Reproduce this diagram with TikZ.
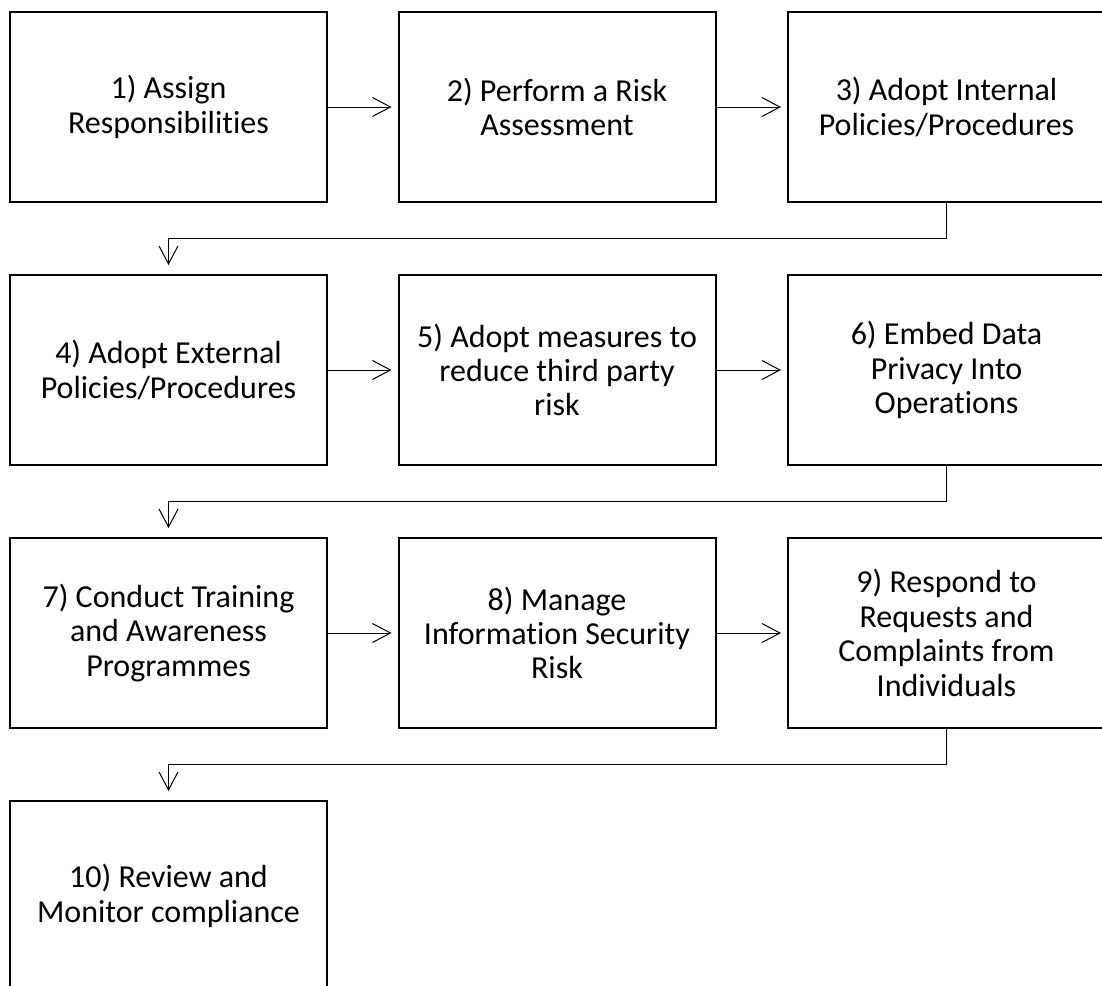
\documentclass[tikz,border=0pt]{standalone}
\usepackage{fontspec}
\setmainfont{Carlito}[Ligatures=NoCommon]
\usetikzlibrary{arrows.meta}
\usetikzlibrary{calc}

\begin{document}
\begin{tikzpicture}[x=0.5pt,y=-0.5pt,
  stepbox/.style={draw=black, line width=1pt, minimum width=158.5pt, minimum height=95pt,
    align=center, font=\fontsize{16}{17.2}\selectfont, inner sep=0pt},
  flow/.style={draw=black, line width=0.5pt, -{Straight Barb[length=9pt,width=9.5pt,line width=0.5pt]}}]
\useasboundingbox (0,0) rectangle (1102,985);
\clip (0,0) rectangle (1102,985);
% row 1
\node[stepbox] (s1) at (168.5,107) {1) Assign\\Responsibilities};
\node[stepbox] (s2) at (557,107) {2) Perform a Risk\\Assessment};
\node[stepbox] (s3) at (946.5,107) {3) Adopt Internal\\Policies/Procedures};
% row 2
\node[stepbox] (s4) at (168.5,370) {4) Adopt External\\Policies/Procedures};
\node[stepbox] (s5) at (557,370) {5) Adopt measures to\\reduce third party\\risk};
\node[stepbox] (s6) at (946.5,370) {6) Embed Data\\Privacy Into\\Operations};
% row 3
\node[stepbox] (s7) at (168.5,633) {7) Conduct Training\\and Awareness\\Programmes};
\node[stepbox] (s8) at (557,633) {8) Manage\\Information Security\\Risk};
\node[stepbox] (s9) at (946.5,633) {9) Respond to\\Requests and\\Complaints from\\Individuals};
% row 4
\node[stepbox] (s10) at (168.5,896) {10) Review and\\Monitor compliance};
% arrows along the rows
\foreach \a/\b in {s1/s2,s2/s3,s4/s5,s5/s6,s7/s8,s8/s9}
  \draw[flow, shorten >=3pt] (\a) -- (\b);
% arrows down to the next row
\foreach \a/\b in {s3/s4,s6/s7,s9/s10}
  \draw[flow, shorten >=4.5pt] (\a.south) -- ($(\a.south)!.5!(\a.south |- \b.north)$) -| (\b.north);
\end{tikzpicture}
\end{document}
